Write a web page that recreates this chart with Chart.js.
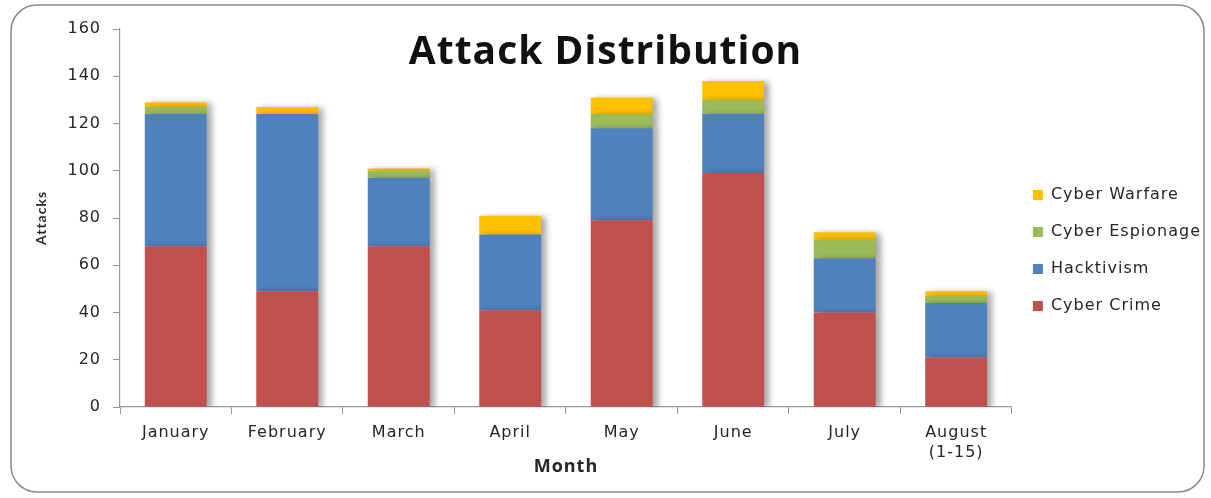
<!DOCTYPE html>
<html>
<head>
<meta charset="utf-8">
<script src="https://cdn.jsdelivr.net/npm/chart.js@4.4.1/dist/chart.umd.min.js"></script>
<style>
  html, body { margin: 0; padding: 0; background: #fff; }
  #wrap { width: 1211px; height: 498px; position: relative; }
</style>
</head>
<body>
<div id="wrap"><canvas id="chart"></canvas></div>
<script>
// values
const months = ['January', 'February', 'March', 'April', 'May', 'June', 'July', ['August', '(1-15)']];
const cyberCrime = [68, 49, 68, 41, 79, 99, 40, 21];
const hacktivism = [56, 75, 29, 32, 39, 25, 23, 23];
const cyberEspionage = [3, 0, 3, 0, 6, 6, 8, 3];
const cyberWarfare = [2, 3, 1, 8, 7, 8, 3, 2];

const yTicks = { min: 0, max: 160, step: 20 };

const textColor = '#262626';
const axisColor = '#999999';

// the original text is rather wide, a bit of letter spacing helps
const spacingPlugin = {
    id: 'spacing',
    beforeUpdate(chart) { chart.ctx.letterSpacing = '1px'; },
    beforeDraw(chart) { chart.ctx.letterSpacing = '1px'; }
};

// rounded frame around the whole chart, like the Excel chart border
const framePlugin = {
    id: 'frame',
    beforeDraw(chart) {
        const ctx = chart.ctx;
        ctx.save();
        ctx.fillStyle = '#fff';
        ctx.fillRect(0, 0, chart.width, chart.height);
        ctx.strokeStyle = '#8a8a8a';
        ctx.lineWidth = 1.5;
        ctx.beginPath();
        ctx.roundRect(11, 5, chart.width - 18, chart.height - 11, 26);
        ctx.stroke();
        ctx.restore();
    }
};

// soft drop shadow on the bars
const shadowPlugin = {
    id: 'barShadow',
    beforeDatasetsDraw(chart) {
        const ctx = chart.ctx;
        ctx.save();
        ctx.shadowColor = 'rgba(0,0,0,0.35)';
        ctx.shadowBlur = 6;
        ctx.shadowOffsetX = 5;
        ctx.shadowOffsetY = 1;
    },
    afterDatasetsDraw(chart) {
        chart.ctx.restore();
    }
};

const ctx = document.getElementById('chart').getContext('2d');
const chart = new Chart(ctx, {
    type: 'bar',
    data: {
        labels: months,
        datasets: [
            { label: 'Cyber Crime', data: cyberCrime, backgroundColor: '#C0504D' },
            { label: 'Hacktivism', data: hacktivism, backgroundColor: '#4F81BD' },
            { label: 'Cyber Espionage', data: cyberEspionage, backgroundColor: '#9BBB59' },
            { label: 'Cyber Warfare', data: cyberWarfare, backgroundColor: '#FFC000' }
        ]
    },
    options: {
        responsive: true,
        maintainAspectRatio: false,
        animation: false,
        layout: {
            padding: { top: 29, left: 0, right: 0, bottom: 11 }
        },
        datasets: {
            bar: {
                barPercentage: 0.555,
                categoryPercentage: 1.0,
                borderWidth: 0
            }
        },
        plugins: {
            title: {
                display: true,
                text: 'Attack Distribution',
                color: '#111',
                font: { family: 'Open Sans', size: 39, weight: 'bold', lineHeight: 1.2 },
                padding: { top: 0, bottom: -46.8 }
            },
            legend: {
                position: 'right',
                fullSize: false,
                reverse: true,
                title: {
                    display: true,
                    text: ' ',
                    padding: { top: 0, bottom: 43.4 },
                    font: { size: 18, lineHeight: 1.2 }
                },
                labels: {
                    boxWidth: 10,
                    boxHeight: 10,
                    padding: 21,
                    color: textColor,
                    font: { family: 'DejaVu Sans', size: 16 }
                }
            },
            tooltip: { enabled: false }
        },
        scales: {
            x: {
                stacked: true,
                offset: true,
                afterFit(scale) { scale.height = 80; },
                border: { color: axisColor, width: 1.2 },
                grid: { display: true, drawOnChartArea: false, drawTicks: true, tickLength: 7, color: axisColor },
                ticks: {
                    color: textColor,
                    font: { family: 'DejaVu Sans', size: 16, lineHeight: 1.25 },
                    padding: 9,
                    maxRotation: 0
                },
                title: {
                    display: true,
                    text: 'Month',
                    color: textColor,
                    font: { family: 'Open Sans', size: 18, weight: 'bold', lineHeight: 1.2 },
                    padding: { top: 4, bottom: 9 }
                }
            },
            y: {
                stacked: true,
                min: yTicks.min,
                max: yTicks.max,
                afterFit(scale) { scale.width = 120; },
                border: { color: axisColor, width: 1.2 },
                grid: { display: true, drawOnChartArea: false, drawTicks: true, tickLength: 7, color: axisColor },
                ticks: {
                    stepSize: yTicks.step,
                    color: textColor,
                    font: { family: 'DejaVu Sans', size: 16 },
                    padding: 12
                },
                title: {
                    display: true,
                    text: 'Attacks',
                    color: textColor,
                    font: { family: 'Lato', size: 14, weight: 'bold' },
                    padding: { top: 33, bottom: 0 }
                }
            }
        }
    },
    plugins: [spacingPlugin, framePlugin, shadowPlugin]
});
</script>
</body>
</html>
